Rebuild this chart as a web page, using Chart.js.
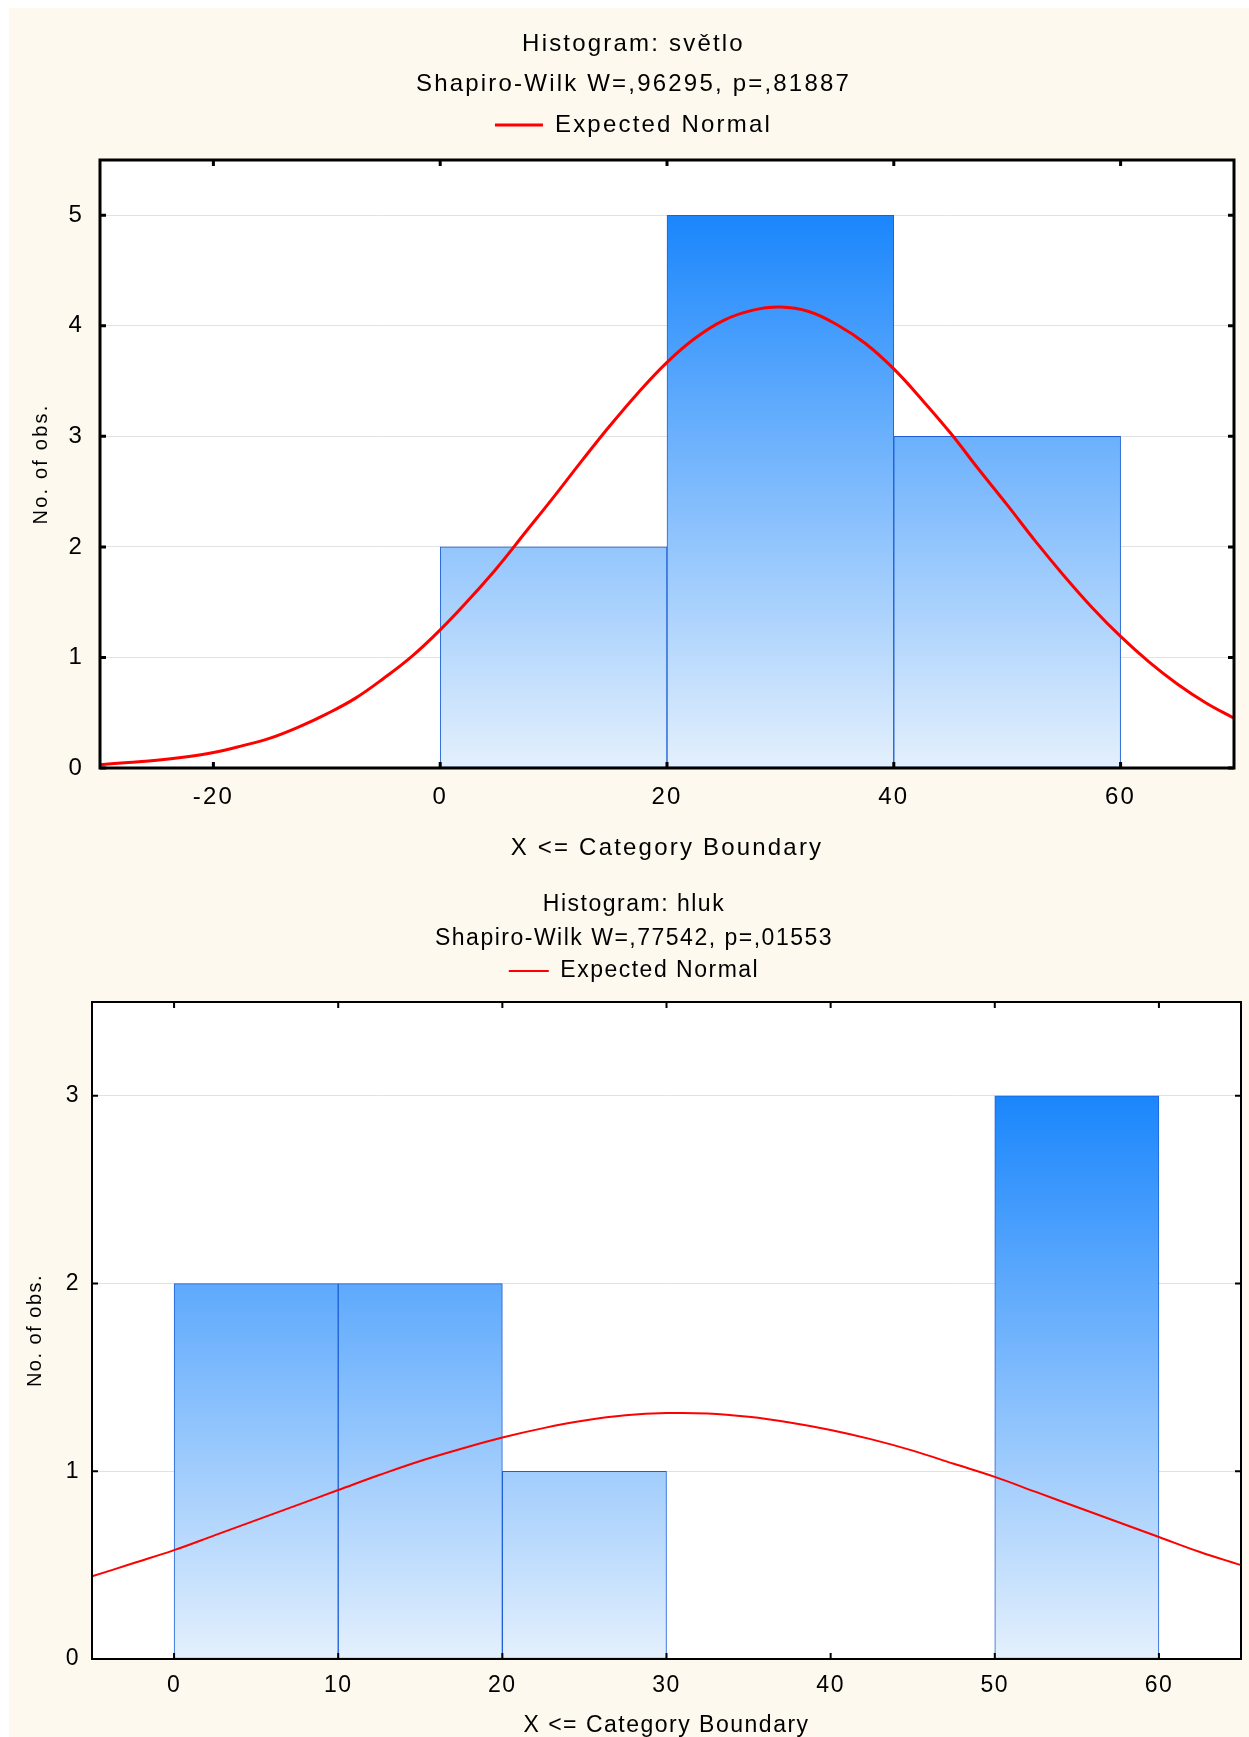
<!DOCTYPE html>
<html>
<head>
<meta charset="utf-8">
<script src="https://cdn.jsdelivr.net/npm/chart.js@4.4.1/dist/chart.umd.min.js"></script>
<style>
  body { margin: 0; overflow: hidden; background: #ffffff; }
  #wrap { position: absolute; left: 9px; top: 8px; width: 1240px; height: 1729px; background: #fdf9ee; overflow: hidden; }
  canvas { position: absolute; left: 0; }
</style>
</head>
<body>
<div id="wrap">
  <canvas id="svetlo" width="1240" height="862" style="top:0"></canvas>
  <canvas id="hluk" width="1240" height="880" style="top:862px"></canvas>
</div>
<script>
// --- histogram: světlo ---
const xTicks1 = [-20, 0, 20, 40, 60];
const yTicks1 = [0, 1, 2, 3, 4, 5];
const binUpper1 = [20, 40, 60];          // X <= category boundary
const counts1 = [2, 5, 3];
const normalX1 = [-30, -27.5, -25, -22.5, -20, -17.5, -15, -12.5, -10, -7.5, -5, -2.5, 0, 2.5, 5, 7.5, 10, 12.5, 15, 17.5,
                  20, 22.5, 25, 27.5, 30, 32.5, 35, 37.5, 40, 42.5, 45, 47.5, 50, 52.5, 55, 57.5, 60, 62.5, 65, 67.5, 70];
const normalY1 = [0.03, 0.05, 0.07, 0.10, 0.14, 0.20, 0.27, 0.37, 0.49, 0.63, 0.81, 1.01, 1.25, 1.52, 1.81, 2.13, 2.45, 2.78, 3.10, 3.40,
                  3.67, 3.89, 4.05, 4.14, 4.17, 4.13, 4.01, 3.84, 3.61, 3.33, 3.03, 2.70, 2.38, 2.05, 1.74, 1.45, 1.19, 0.96, 0.76, 0.59, 0.45];

// --- histogram: hluk ---
const xTicks2 = [0, 10, 20, 30, 40, 50, 60];
const yTicks2 = [0, 1, 2, 3];
const binUpper2 = [10, 20, 30, 40, 50, 60];
const counts2 = [2, 2, 1, 0, 0, 3];
const normalX2 = [-5, -2.5, 0, 2.5, 5, 7.5, 10, 12.5, 15, 17.5, 20, 22.5, 25, 27.5, 30, 32.5,
                  35, 37.5, 40, 42.5, 45, 47.5, 50, 52.5, 55, 57.5, 60, 62.5, 65];
const normalY2 = [0.44, 0.51, 0.58, 0.66, 0.74, 0.82, 0.90, 0.98, 1.055, 1.12, 1.18, 1.23, 1.27, 1.298, 1.31, 1.308,
                  1.29, 1.26, 1.22, 1.17, 1.11, 1.04, 0.97, 0.89, 0.81, 0.73, 0.65, 0.57, 0.50];

Chart.defaults.font.family = "'Liberation Sans', Arial, sans-serif";
Chart.defaults.color = '#000';

function makeHistogram(id, o) {
    const w = o.bins[1] - o.bins[0];
    const bars = o.bins.map((b, i) => ({ x: b - w / 2, y: o.counts[i] }));
    const curve = o.nx.map((x, i) => ({ x: x, y: o.ny[i] }));
    const maxCount = Math.max(...o.counts);
    const f = (size) => ({ size: size, lineHeight: 1.2, weight: 'normal' });

    const frame = {
        id: 'frame',
        beforeUpdate(c) { c.ctx.letterSpacing = o.spacing + 'px'; },
        beforeDraw(c) {
            const a = c.chartArea, ctx = c.ctx;
            ctx.letterSpacing = o.spacing + 'px';
            ctx.save();
            ctx.fillStyle = '#ffffff';
            ctx.fillRect(a.left, a.top, a.right - a.left, a.bottom - a.top);
            ctx.restore();
        },
        afterDraw(c) {
            const a = c.chartArea, ctx = c.ctx, sx = c.scales.x, sy = c.scales.y;
            ctx.save();
            ctx.strokeStyle = '#000';
            ctx.lineWidth = o.frameW;
            ctx.strokeRect(a.left, a.top, a.right - a.left, a.bottom - a.top);
            ctx.beginPath();
            o.xt.forEach(v => {
                const px = sx.getPixelForValue(v);
                ctx.moveTo(px, a.bottom); ctx.lineTo(px, a.bottom - 6);
                ctx.moveTo(px, a.top); ctx.lineTo(px, a.top + 6);
            });
            o.yt.forEach(v => {
                const py = sy.getPixelForValue(v);
                ctx.moveTo(a.left, py); ctx.lineTo(a.left + 6, py);
                ctx.moveTo(a.right, py); ctx.lineTo(a.right - 6, py);
            });
            ctx.stroke();
            ctx.restore();
        }
    };

    return new Chart(document.getElementById(id), {
        data: {
            datasets: [{
                type: 'line',
                label: 'Expected Normal',
                data: curve,
                borderColor: '#ff0000',
                borderWidth: o.lineW,
                pointRadius: 0,
                tension: 0.4,
                order: 1
            }, {
                type: 'bar',
                label: 'counts',
                data: bars,
                backgroundColor: (ctx) => {
                    const ch = ctx.chart;
                    if (!ch.chartArea) return '#6cb1fc';
                    const g = ch.ctx.createLinearGradient(0, ch.scales.y.getPixelForValue(maxCount), 0, ch.scales.y.getPixelForValue(0));
                    g.addColorStop(0, '#1a86fc');
                    g.addColorStop(1, '#e4f0fd');
                    return g;
                },
                borderColor: '#1c5fd6',
                borderWidth: 1,
                borderSkipped: false,
                barPercentage: 1,
                categoryPercentage: 1,
                order: 2
            }]
        },
        options: {
            responsive: false,
            animation: false,
            layout: { padding: { left: o.padL, right: o.padR, top: 0, bottom: 0 } },
            scales: {
                x: {
                    type: 'linear',
                    min: o.xmin,
                    max: o.xmax,
                    offset: false,
                    afterFit(s) { s.height = o.xAxisH; },
                    afterBuildTicks(s) { s.ticks = o.xt.map(v => ({ value: v })); },
                    ticks: { font: f(o.fs), padding: o.xTickPad, color: '#000' },
                    grid: { display: false, drawTicks: false, offset: false },
                    border: { display: false },
                    title: { display: true, text: 'X <= Category Boundary', font: f(o.fs), color: '#000', padding: { top: 0, bottom: o.xTitlePad } }
                },
                xTop: {
                    type: 'linear',
                    position: 'top',
                    min: o.xmin,
                    max: o.xmax,
                    offset: false,
                    afterFit(s) { s.height = o.topGap; },
                    ticks: { display: false },
                    grid: { display: false, drawTicks: false },
                    border: { display: false }
                },
                y: {
                    min: 0,
                    max: o.ymax,
                    afterFit(s) { s.width = o.yAxisW; },
                    afterBuildTicks(s) { s.ticks = o.yt.map(v => ({ value: v })); },
                    ticks: { font: f(o.fs), padding: o.yTickPad, color: '#000' },
                    grid: { color: '#e2e2e2', lineWidth: 1, drawTicks: false },
                    border: { display: false },
                    title: { display: true, text: 'No. of obs.', font: f(20), color: '#000', padding: { top: o.yTitlePad, bottom: 0 } }
                }
            },
            plugins: {
                tooltip: { enabled: false },
                title: {
                    display: true,
                    text: o.title,
                    font: f(o.fs),
                    color: '#000',
                    padding: { top: o.titlePadT, bottom: 0 }
                },
                subtitle: {
                    display: true,
                    text: o.sub,
                    font: f(o.fs),
                    color: '#000',
                    padding: { top: o.subPadT, bottom: o.subPadB }
                },
                legend: {
                    display: true,
                    position: 'top',
                    labels: {
                        font: f(o.fs),
                        color: '#000',
                        boxWidth: o.legendW,
                        boxHeight: o.lineW,
                        padding: o.legendPad,
                        generateLabels: () => [{
                            text: 'Expected Normal',
                            fillStyle: '#ff0000',
                            strokeStyle: '#ff0000',
                            lineWidth: 0,
                            hidden: false,
                            datasetIndex: 0
                        }]
                    }
                }
            }
        },
        plugins: [frame]
    });
}

makeHistogram('svetlo', {
    bins: binUpper1, counts: counts1, nx: normalX1, ny: normalY1, xt: xTicks1, yt: yTicks1,
    xmin: -30, xmax: 70, ymax: 5.5,
    title: 'Histogram: světlo', sub: 'Shapiro-Wilk W=,96295, p=,81887',
    fs: 24, spacing: 2.2, lineW: 3, frameW: 3, legendW: 48,
    padL: 24, padR: 15, yAxisW: 67, yTickPad: 16, yTitlePad: -4,
    xAxisH: 102, xTickPad: 14.6, xTitlePad: 7.6,
    titlePadT: 21.6, subPadT: 11.2, subPadB: 4.6, legendPad: 10, topGap: 13
});

makeHistogram('hluk', {
    bins: binUpper2, counts: counts2, nx: normalX2, ny: normalY2, xt: xTicks2, yt: yTicks2,
    xmin: -5, xmax: 65, ymax: 3.5,
    title: 'Histogram: hluk', sub: 'Shapiro-Wilk W=,77542, p=,01553',
    fs: 23, spacing: 1.5, lineW: 2, frameW: 2, legendW: 40,
    padL: 18, padR: 8, yAxisW: 65, yTickPad: 12, yTitlePad: -4,
    xAxisH: 91, xTickPad: 13.2, xTitlePad: 10.2,
    titlePadT: 21.2, subPadT: 6.4, subPadB: 0, legendPad: 6.7, topGap: 9.5
});
</script>
</body>
</html>
